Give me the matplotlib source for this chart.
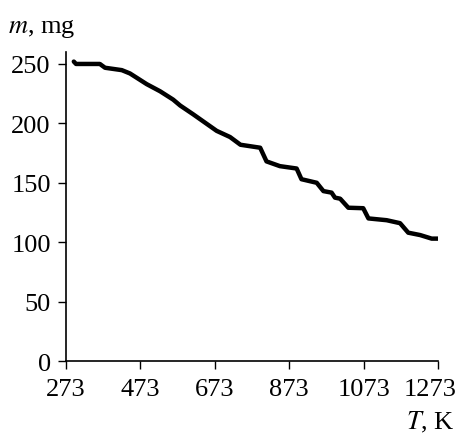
import matplotlib
matplotlib.use('Agg')
import matplotlib.pyplot as plt
from matplotlib.transforms import ScaledTranslation

# temperature (K) and mass (mg)
T = [294, 300, 364, 378, 423, 445, 490, 526, 561, 580, 615, 678, 714, 742,
     795, 812, 848, 893, 906, 947, 965, 987, 996, 1010, 1032, 1072, 1086,
     1135, 1171, 1193, 1225, 1256, 1274]
m = [252, 250, 250, 246.8, 244.8, 242, 233, 227, 220, 215, 207.6, 193.7, 188.5, 182,
     179.5, 168, 164, 162, 153, 150, 143, 141.7, 137.5, 136.6, 129, 128.6, 120,
     118.5, 116, 108, 106, 103, 103]

xticks = [273, 473, 673, 873, 1073, 1273]
yticks = [0, 50, 100, 150, 200, 250]

plt.rcParams['font.family'] = ['Liberation Serif', 'DejaVu Serif']
plt.rcParams['mathtext.fontset'] = 'stix'

fig = plt.figure(figsize=(4.57, 4.35), dpi=100)
ax = fig.add_axes([0.1444, 0.1678, 0.9584 - 0.1444, 0.878 - 0.1678])

ax.plot(T, m, color='black', lw=3.2, solid_capstyle='round', solid_joinstyle='round')

ax.set_xlim(273, 1273)
ax.set_ylim(0, 260)
ax.set_xticks(xticks)
ax.set_yticks(yticks)
ax.tick_params(labelsize=19, length=6, width=1, direction='out')
ax.tick_params(axis='x', pad=6)
ax.tick_params(axis='y', pad=5)

# last x label is pulled inside the figure, like in the original
lbl = ax.get_xticklabels()[-1]
lbl.set_transform(lbl.get_transform() + ScaledTranslation(-0.08, 0, fig.dpi_scale_trans))

ax.spines['top'].set_visible(False)
ax.spines['right'].set_visible(False)
ax.spines['left'].set_linewidth(1.2)
ax.spines['bottom'].set_linewidth(1.2)

fig.text(0.018, 0.924, '$m$, mg', fontsize=19, ha='left', va='baseline')
fig.text(0.994, 0.012, '$T$, K', fontsize=19, ha='right', va='baseline')

plt.savefig('out.png', dpi=100)
plt.close()
